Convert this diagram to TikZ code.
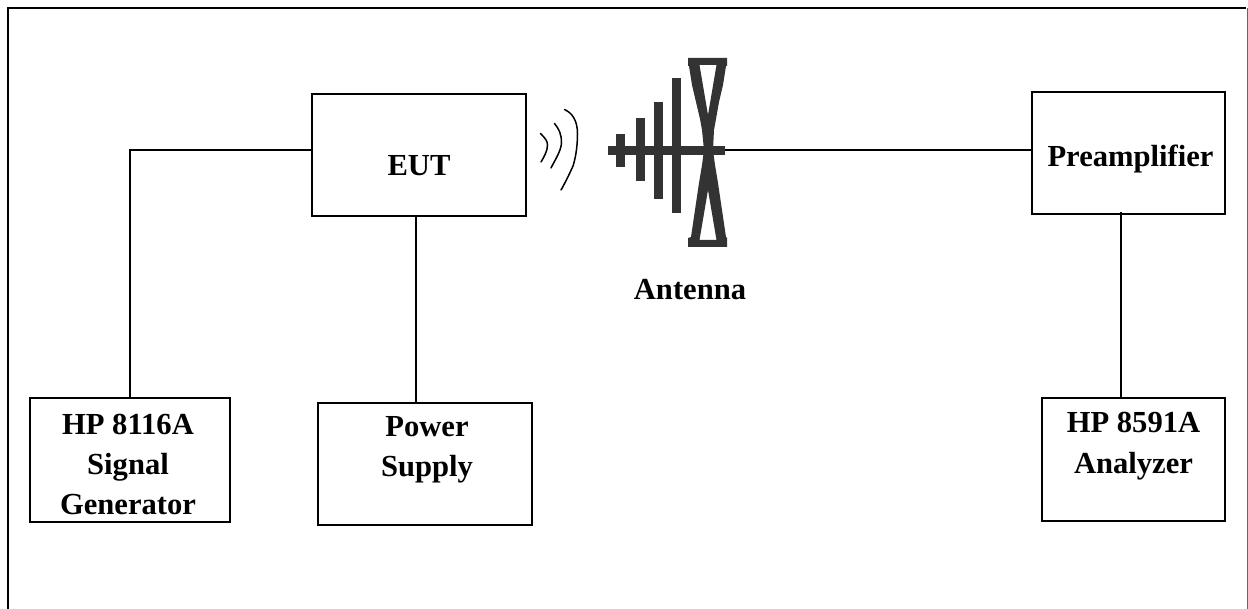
\documentclass[tikz,border=0pt]{standalone}
\usepackage{fontspec}
\setmainfont{Liberation Serif}
\newcommand{\lbl}[2]{\raisebox{#1}[0pt][0pt]{\begin{tabular}[t]{@{}c@{}}#2\end{tabular}}}
\definecolor{antgray}{HTML}{333333}
\tikzset{
  x=1pt,y=-1pt,
  unit/.style={draw=black,line width=1.6pt,rectangle,inner sep=0pt,
    font=\fontsize{30.6}{40}\selectfont\bfseries,text=black},
  wire/.style={draw=black,line width=1.5pt},
  wave/.style={draw=black,line width=1.5pt,line cap=round},
  antfill/.style={fill=antgray,draw=none},
}
\begin{document}
\begin{tikzpicture}
\useasboundingbox (0,0) rectangle (1248,609);
% frame, open at the bottom
\draw[line width=1.6pt] (8,609) -- (8,8) -- (1246,8);
\draw[line width=0.6pt,draw=black!60] (1247,8) -- (1247,609);
% boxes
\node[unit,minimum width=214pt,minimum height=122pt] (eut) at (419,155) {\lbl{-21pt}{EUT}};
\node[unit,minimum width=193pt,minimum height=122pt] (pre) at (1128.5,153) {\hspace{4pt}\lbl{-14pt}{Preamplifier}};
\node[unit,minimum width=200pt,minimum height=124pt] (sg) at (130,460) {\hspace{-4pt}\lbl{25pt}{HP 8116A\\Signal\\Generator}};
\node[unit,minimum width=214pt,minimum height=122pt] (ps) at (425,464) {\hspace{4pt}\lbl{27pt}{Power\\Supply}};
\node[unit,minimum width=183pt,minimum height=123pt] (an) at (1133.5,459.5) {\lbl{26.5pt}{HP 8591A\\Analyzer}};
\node[font=\fontsize{30.6}{40}\selectfont\bfseries,text=black,anchor=base,inner sep=0pt] (antlabel) at (690,300) {Antenna};
% antenna
\coordinate (ant) at (725,150);
\coordinate (junction) at (130,150);
\fill[antfill] (608,146) rectangle (725,155);
\fill[antfill] (616,134) rectangle (625,167);
\fill[antfill] (636,118) rectangle (645,181);
\fill[antfill] (654,102) rectangle (663,199);
\fill[antfill] (672,78) rectangle (681,213);
\fill[antfill,even odd rule]
  (688,58) -- (727,58) -- (727,66) -- (726,66) -- (723,85) -- (719,102) -- (716,119) -- (714,130) -- (713,150)
  -- (704,150) -- (702,130) -- (700,119) -- (696,102) -- (692,85) -- (689,66) -- (688,66) -- cycle
  (699.5,65) -- (716.5,65) -- (708,115) -- cycle;
\fill[antfill,even odd rule]
  (704,150) -- (713,150) -- (715,165) -- (718,183) -- (722,210) -- (726,237) -- (727,238) -- (727,247)
  -- (688,247) -- (688,238) -- (691,237) -- (695,210) -- (699,183) -- (702,165) -- cycle
  (699.5,240) -- (716.5,240) -- (708,190) -- cycle;
% waves
\draw[wave] (540.5,133.5) .. controls (545,138) and (547.5,141) .. (547.5,145) .. controls (547.5,151) and (544,157) .. (541,162);
\draw[wave] (554.5,123.5) .. controls (559,129) and (561.5,134) .. (561.5,143) .. controls (561,151) and (555,160) .. (551,168);
\draw[wave] (564.5,109.5) .. controls (572,113) and (577.5,120) .. (577.5,134) .. controls (577.5,148) and (575,160) .. (573,166) .. controls (569,175) and (565,183) .. (561,190);
% connectors
\draw[wire] (sg.north) -- (sg.north |- junction) -- (eut.west |- junction);
\draw[wire] (eut.south -| 416,0) -- (416,0 |- ps.north);
\draw[wire] (ant) -- (pre.west |- ant);
\draw[wire] (1121,212) -- (1121,0 |- an.north);
\end{tikzpicture}
\end{document}
